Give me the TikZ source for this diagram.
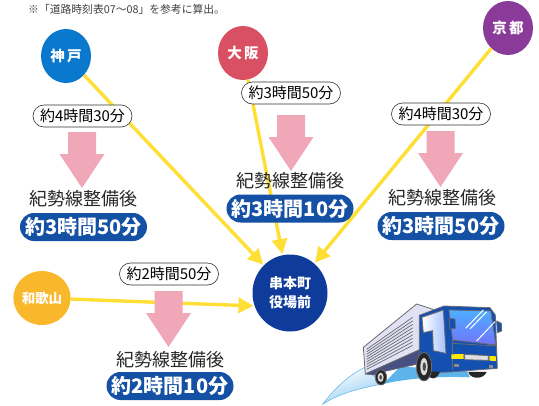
\documentclass[tikz,border=0pt]{standalone}
\usepackage{fontspec}
\newfontfamily\jp{Noto Sans CJK JP}
\usetikzlibrary{arrows.meta,shapes.geometric,shapes.misc,calc}
\definecolor{road}{HTML}{FFDF35}
\definecolor{pinkarrow}{HTML}{F0A8B8}
\definecolor{pillblue}{HTML}{1450A3}
\definecolor{hubblue}{HTML}{0F3C9A}
\definecolor{truckblue}{HTML}{1450B0}
\definecolor{edgegrey}{HTML}{6A6A70}
\definecolor{swoosh}{HTML}{5DB4EA}
\tikzset{
  city/.style={ellipse,minimum width=50pt,minimum height=54pt,inner sep=0pt,text=white,font=\jp\bfseries\fontsize{14.5}{16}\selectfont},
  road link/.style={draw=road,line width=3.4pt,-{Triangle[length=15pt,width=15pt]},shorten >=1pt},
  time label/.style={rounded rectangle,draw=black!80,line width=.6pt,fill=white,minimum width=99pt,minimum height=22pt,inner sep=0pt,font=\jp\fontsize{15}{17}\selectfont},
  after text/.style={font=\jp\fontsize{18}{20}\selectfont,inner sep=0pt,text=black!85},
  new time/.style={rounded rectangle,fill=pillblue,minimum width=127pt,minimum height=28pt,inner sep=0pt,text=white,font=\jp\bfseries\fontsize{20}{22}\selectfont},
  pinkdown/.pic={
    \fill[pinkarrow] (-14,0) -- (14,0) -- (14,22) -- (22.5,22) -- (0,56) -- (-22.5,22) -- (-14,22) -- cycle;
  },
  truck edge/.style={draw=edgegrey,line width=.8pt,line join=round}
}
\begin{document}
\begin{tikzpicture}[x=1pt,y=-1pt]
\useasboundingbox (0,0) rectangle (539,405);
\fill[white] (0,0) rectangle (539,405);

% Footnote
\node[anchor=west,inner sep=0pt,text=black!75,font=\jp\fontsize{10.8}{12}\selectfont] (note) at (28,9) {※「道路時刻表07～08」を参考に算出。};

% Origins and destination
\node[city,fill={rgb,255:red,10;green,120;blue,205}] (kobe) at (66,56) {神\,戸};
\node[city,fill={rgb,255:red,217;green,80;blue,100}] (osaka) at (243,53) {大\,阪};
\node[city,fill={rgb,255:red,138;green,58;blue,152}] (kyoto) at (508,28) {京\,都};
\node[city,fill={rgb,255:red,249;green,184;blue,43},font=\jp\bfseries\fontsize{13.5}{15}\selectfont] (wakayama) at (42,298) {和歌山};
\node[ellipse,fill=hubblue,minimum width=75pt,minimum height=77pt,inner sep=0pt,align=center,text=white,font=\jp\bfseries\fontsize{14}{19}\selectfont] (hub) at (290,293) {串本町\\役場前};

% Routes towards the town office
\draw[road link] (kobe) -- (hub);
\draw[road link] (osaka) -- (hub);
\draw[road link] (kyoto) -- (hub);
\draw[road link] (wakayama) -- (hub.200);

% Kobe block
\node[time label] (t1) at (82.5,116) {約4時間30分};
\pic at (82,132) {pinkdown};
\node[after text] (a1) at (83.5,199) {紀勢線整備後};
\node[new time] (n1) at (83.5,227) {約3時間50分};

% Osaka block
\node[time label] (t2) at (291,93) {約3時間50分};
\pic at (291,115) {pinkdown};
\node[after text] (a2) at (290,181) {紀勢線整備後};
\node[new time] (n2) at (290,208.5) {約3時間10分};

% Kyoto block
\node[time label] (t3) at (441,114) {約4時間30分};
\pic at (440.5,131) {pinkdown};
\node[after text] (a3) at (442,198) {紀勢線整備後};
\node[new time] (n3) at (441,226) {約3時間50分};

% Wakayama block
\node[time label] (t4) at (169,274) {約2時間50分};
\pic at (168.5,291) {pinkdown};
\node[after text] (a4) at (170,360) {紀勢線整備後};
\node[new time] (n4) at (170,386) {約2時間10分};

% Truck with its swoosh
\begin{scope}[shift={(300,260)},x=.3333pt,y=-.3333pt]
  \shade[left color=swoosh!70,right color=white,shading angle=200,draw=swoosh,line width=.5pt]
    (68,433) .. controls (100,390) and (140,350) .. (192,323) -- (250,372) .. controls (170,385) and (110,405) .. (68,433) -- cycle;
  \fill[swoosh] (250,372) .. controls (320,355) and (420,348) .. (510,352) -- (500,330) -- (300,320) -- cycle;
  % cargo box
  \filldraw[truck edge,fill={rgb,255:red,225;green,225;blue,243}] (190,262) -- (350,132) -- (405,150) -- (362,170) -- (362,268) -- (196,342) -- cycle;
  \foreach \i in {0,...,8}{
    \draw[edgegrey,line width=.7pt] ($(200,268)+(0,\i*7.5)$) -- ($(338,172)+(0,\i*10.5)$);
  }
  \filldraw[truck edge,fill={rgb,255:red,70;green,80;blue,130}] (196,342) -- (362,268) -- (362,310) -- (250,335) -- (225,345) -- cycle;
  % cab
  \filldraw[truck edge,fill=truckblue] (358,166) -- (432,138) -- (570,143) -- (586,165) -- (592,325) -- (450,336) -- (395,338) -- (358,300) -- cycle;
  \shade[left color=white,right color=cyan!30!blue!35,draw=edgegrey,line width=.8pt] (366,172) -- (430,150) -- (438,280) -- (400,272) -- (398,212) -- (370,218) -- cycle;
  \shade[top color=blue!45!cyan!70,bottom color=blue!55!white,draw=edgegrey,line width=.8pt] (447,150) -- (572,153) -- (588,255) -- (458,240) -- cycle;
  \draw[white,line width=1pt] (497,205) -- (550,150);
  \draw[white,line width=1pt] (510,207) -- (560,155);
  \draw[white,line width=1pt] (530,243) -- (585,185);
  \filldraw[truck edge,fill=truckblue] (448,175) -- (465,177) -- (467,205) -- (450,207) -- cycle;
  \filldraw[truck edge,fill=truckblue] (590,183) -- (604,190) -- (605,213) -- (592,218) -- cycle;
  \draw[edgegrey,line width=.8pt] (456,250) -- (590,258);
  \draw[edgegrey,line width=.8pt] (456,240) -- (456,330);
  % lamps and grille
  \fill[yellow!90!orange] (454,283) -- (491,282) -- (491,297) -- (454,297) -- cycle;
  \fill[yellow!90!orange] (568,288) -- (588,289) -- (588,303) -- (568,302) -- cycle;
  \filldraw[truck edge,fill=black!12] (494,283) -- (565,287) -- (565,301) -- (494,299) -- cycle;
  \fill[black!45] (462,312) rectangle (476,320);
  \fill[black!45] (566,316) rectangle (580,324);
  % wheels
  \fill[black!85] (505,336) .. controls (510,358) and (550,360) .. (560,336) -- cycle;
  \fill[black!85] (380,335) .. controls (385,362) and (410,362) .. (420,335) -- cycle;
  \filldraw[black!85,draw=edgegrey,line width=.8pt] (372,320) ellipse [x radius=23,y radius=43];
  \fill[black!15] (372,320) ellipse [x radius=11,y radius=26];
  \fill[black!70] (373,320) ellipse [x radius=5,y radius=13];
  \filldraw[black!85,draw=edgegrey,line width=.8pt] (243,352) ellipse [x radius=17,y radius=23];
  \fill[black!15] (242,352) ellipse [x radius=9,y radius=14];
  \fill[black!70] (242,352) ellipse [x radius=4,y radius=7];
\end{scope}
\end{tikzpicture}
\end{document}
